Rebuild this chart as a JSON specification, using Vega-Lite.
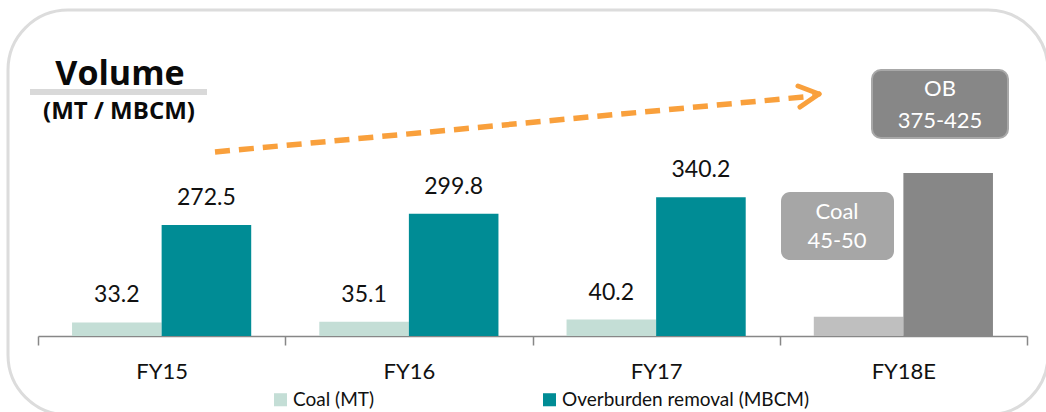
{
  "$schema": "https://vega.github.io/schema/vega-lite/v6.json",
  "autosize": {"type": "none"},
  "padding": {"left": 8, "top": 10, "right": 0, "bottom": 0},
  "width": 1040,
  "height": 405,
  "background": "white",
  "config": {
    "view": {"stroke": "#dcdcdc", "strokeWidth": 3, "cornerRadius": 60},
    "font": "Lato",
    "text": {"font": "Lato"}
  },
  "datasets": {
    "volumes": [
      {"year": "FY15", "series": "Coal", "legend": "Coal (MT)", "value": 33.2, "label": "33.2"},
      {"year": "FY15", "series": "OB", "legend": "Overburden removal (MBCM)", "value": 272.5, "label": "272.5"},
      {"year": "FY16", "series": "Coal", "legend": "Coal (MT)", "value": 35.1, "label": "35.1"},
      {"year": "FY16", "series": "OB", "legend": "Overburden removal (MBCM)", "value": 299.8, "label": "299.8"},
      {"year": "FY17", "series": "Coal", "legend": "Coal (MT)", "value": 40.2, "label": "40.2"},
      {"year": "FY17", "series": "OB", "legend": "Overburden removal (MBCM)", "value": 340.2, "label": "340.2"},
      {"year": "FY18E", "series": "Coal", "legend": "Coal (estimate)", "value": 47.5, "label": ""},
      {"year": "FY18E", "series": "OB", "legend": "OB (estimate)", "value": 400, "label": ""}
    ]
  },
  "layer": [
    {
      "data": {"name": "volumes"},
      "encoding": {
        "x": {
          "field": "year", "type": "nominal", "sort": ["FY15", "FY16", "FY17", "FY18E"],
          "scale": {"range": [30, 1019], "paddingInner": 0, "paddingOuter": 0},
          "axis": {
            "title": null, "orient": "bottom", "offset": -79,
            "tickBand": "extent", "labelAngle": 0,
            "labelFontSize": 22, "labelColor": "#111111", "labelPadding": 16, "labelFont": "Lato",
            "domainColor": "#878787", "domainWidth": 1.5, "tickColor": "#878787", "tickSize": 9, "tickWidth": 1.5,
            "grid": false
          }
        },
        "xOffset": {
          "field": "series", "type": "nominal", "sort": ["Coal", "OB"],
          "scale": {"paddingInner": 0, "paddingOuter": 0.38}
        },
        "y": {
          "field": "value", "type": "quantitative",
          "scale": {"domain": [0, 800], "range": [326, 0], "nice": false, "zero": true},
          "axis": null
        }
      },
      "layer": [
        {
          "mark": {"type": "bar"},
          "encoding": {
            "color": {
              "field": "legend", "type": "nominal",
              "scale": {
                "domain": ["Coal (MT)", "Overburden removal (MBCM)", "Coal (estimate)", "OB (estimate)"],
                "range": ["#c4ded6", "#008c95", "#bfbfbf", "#878787"]
              },
              "legend": {
                "values": ["Coal (MT)", "Overburden removal (MBCM)"],
                "title": null, "orient": "none", "direction": "horizontal",
                "legendX": 263, "legendY": 380,
                "symbolType": "square", "symbolSize": 170, "symbolStrokeWidth": 0,
                "labelFontSize": 19, "labelFont": "Lato", "labelColor": "#111111", "labelOffset": 3,
                "columnPadding": 165, "labelLimit": 400
              }
            }
          }
        },
        {
          "mark": {"type": "text", "fontSize": 23, "color": "#111111", "dy": -27, "baseline": "middle"},
          "encoding": {"text": {"field": "label"}}
        }
      ]
    },
    {
      "data": {"values": [{}]},
      "mark": {"type": "text", "text": "Volume", "fontSize": 34, "fontWeight": "bold", "font": "Open Sans", "color": "#0a0a0a", "align": "center", "baseline": "alphabetic"},
      "encoding": {"x": {"value": 112}, "y": {"value": 75}}
    },
    {
      "data": {"values": [{}]},
      "mark": {"type": "rect", "color": "#d9d9d9"},
      "encoding": {"x": {"value": 22}, "x2": {"value": 199}, "y": {"value": 79}, "y2": {"value": 85}}
    },
    {
      "data": {"values": [{}]},
      "mark": {"type": "text", "text": "(MT / MBCM)", "fontSize": 24, "fontWeight": "bold", "font": "Open Sans", "color": "#0a0a0a", "align": "center", "baseline": "alphabetic"},
      "encoding": {"x": {"value": 111}, "y": {"value": 109}}
    },
    {
      "data": {"values": [{}]},
      "mark": {"type": "rule", "color": "#f9a03c", "strokeWidth": 5.5, "strokeDash": [15, 9]},
      "encoding": {"x": {"value": 207}, "y": {"value": 142}, "x2": {"value": 806}, "y2": {"value": 86}}
    },
    {
      "data": {"values": [{}]},
      "mark": {"type": "rule", "color": "#f9a03c", "strokeWidth": 5, "strokeCap": "round"},
      "encoding": {"x": {"value": 790}, "y": {"value": 76}, "x2": {"value": 811}, "y2": {"value": 84}}
    },
    {
      "data": {"values": [{}]},
      "mark": {"type": "rule", "color": "#f9a03c", "strokeWidth": 5, "strokeCap": "round"},
      "encoding": {"x": {"value": 792}, "y": {"value": 97}, "x2": {"value": 811}, "y2": {"value": 84}}
    },
    {
      "data": {"values": [{}]},
      "mark": {"type": "rect", "color": "#878787", "stroke": "#a8a8a8", "strokeWidth": 2, "cornerRadius": 9},
      "encoding": {"x": {"value": 864}, "x2": {"value": 1000}, "y": {"value": 60}, "y2": {"value": 128}}
    },
    {
      "data": {"values": [{}]},
      "mark": {"type": "text", "text": "OB", "fontSize": 22, "color": "white", "align": "center", "baseline": "middle"},
      "encoding": {"x": {"value": 932}, "y": {"value": 79}}
    },
    {
      "data": {"values": [{}]},
      "mark": {"type": "text", "text": "375-425", "fontSize": 22, "color": "white", "align": "center", "baseline": "middle"},
      "encoding": {"x": {"value": 932}, "y": {"value": 111}}
    },
    {
      "data": {"values": [{}]},
      "mark": {"type": "rect", "color": "#a6a6a6", "cornerRadius": 9},
      "encoding": {"x": {"value": 773}, "x2": {"value": 886}, "y": {"value": 182}, "y2": {"value": 250}}
    },
    {
      "data": {"values": [{}]},
      "mark": {"type": "text", "text": "Coal", "fontSize": 22, "color": "white", "align": "center", "baseline": "middle"},
      "encoding": {"x": {"value": 829}, "y": {"value": 202}}
    },
    {
      "data": {"values": [{}]},
      "mark": {"type": "text", "text": "45-50", "fontSize": 22, "color": "white", "align": "center", "baseline": "middle"},
      "encoding": {"x": {"value": 829}, "y": {"value": 231}}
    }
  ]
}
